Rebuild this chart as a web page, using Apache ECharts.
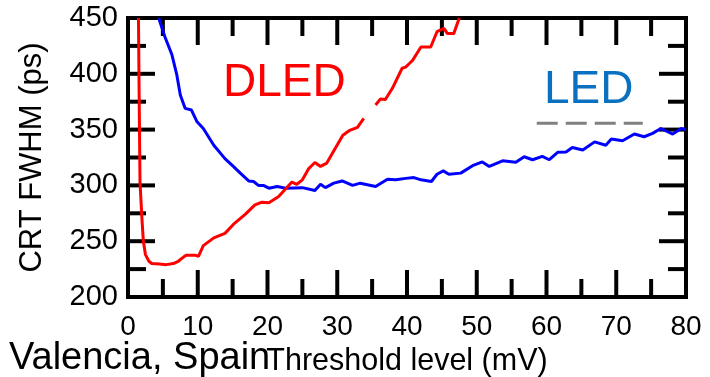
<!DOCTYPE html>
<html>
<head>
<meta charset="utf-8">
<script src="https://cdn.jsdelivr.net/npm/echarts@6/dist/echarts.min.js"></script>
<style>
html,body{margin:0;padding:0;background:#fff;}
#chart{width:710px;height:377px;}
</style>
</head>
<body>
<div id="chart"></div>
<script>
// DLED curve, Threshold level (mV) vs CRT FWHM (ps); drawn in two pieces (the line has a gap near 34 mV)
const dledLowThreshold = [1.5, 1.6, 1.72, 2.0, 2.2, 2.5, 3.0, 3.4, 4.5, 5.5, 6.5, 7.2, 8.0, 8.4, 9.6, 10.1, 10.8, 12.3, 13.9, 15.1, 16.8, 18.2, 19.2, 20.2, 21.6, 23.5, 24.2, 25.0, 25.9, 26.8, 27.6, 28.5, 29.7, 30.8, 31.7, 32.9, 33.8];
const dledLowCRT = [450, 380, 303, 270, 250, 238, 232, 230, 229.5, 229, 230, 232, 236, 237.5, 237.5, 236.5, 246, 253, 257, 265, 274, 282.5, 285, 284.5, 290, 303, 301, 305, 315, 320.5, 317, 320, 333, 345, 349, 352, 360];
const dledHighThreshold = [35.5, 36.2, 36.9, 37.9, 39.3, 39.8, 40.3, 40.8, 42.0, 43.4, 44.3, 45.3, 45.8, 46.7, 47.5];
const dledHighCRT = [372, 377.5, 377, 387, 405, 406, 409, 412, 424, 424, 437.7, 440.7, 436, 436, 450];

// LED curve
const ledThreshold = [4.4, 5.3, 6.3, 7.0, 7.5, 8.2, 9.1, 9.9, 10.8, 12.3, 13.9, 15.1, 16.1, 17.3, 18.0, 18.7, 19.4, 20.2, 21.4, 22.6, 25.0, 26.8, 27.6, 28.3, 29.5, 30.7, 32.2, 33.3, 35.5, 37.2, 38.4, 39.8, 41.0, 42.0, 43.5, 44.3, 45.2, 46.0, 47.7, 49.4, 50.8, 51.8, 53.7, 55.6, 56.8, 58.0, 59.4, 60.4, 61.6, 62.8, 63.7, 65.2, 66.9, 68.5, 69.3, 70.9, 72.6, 74.0, 75.2, 76.4, 78.1, 79.3, 80.0];
const ledCRT = [450, 433, 417, 399, 381, 369, 367.5, 357, 351, 336, 324, 317, 311, 304, 303.5, 300, 300, 297.5, 299, 297.5, 298, 295.5, 301, 298, 302, 304, 300, 302, 299, 305.5, 305, 306.3, 307, 305, 303.5, 310, 313, 310, 311, 317.7, 321, 317, 322, 320.7, 325.7, 323, 326, 323, 329.6, 330, 334, 331.7, 339, 336, 341.6, 340, 346, 343.6, 346.6, 351, 346, 351, 350];

// gray dashed stroke under "LED"
const dashThreshold = [58.6, 73.8];
const dashCRT = [355.6, 355.6];

const xTicks = {min: 0, max: 80, interval: 10};
const yTicks = {min: 200, max: 450, interval: 50};

const zip = (a, b) => a.map((v, i) => [v, b[i]]);
const FONT = '"Liberation Sans", Arial, sans-serif';
const MAJOR = 27, MINOR = 18;

// Box frame + inward ticks on all four sides, positioned through the axis scales.
// kind 0 = x tick, 1 = y tick, 2 = frame rectangle
const frameItems = [[2, 0, 0]];
for (let v = xTicks.min; v <= xTicks.max; v += xTicks.interval / 2) {
  frameItems.push([0, v, (v - xTicks.min) % xTicks.interval === 0 ? MAJOR : MINOR]);
}
for (let v = yTicks.min; v <= yTicks.max; v += yTicks.interval / 2) {
  frameItems.push([1, v, (v - yTicks.min) % yTicks.interval === 0 ? MAJOR : MINOR]);
}

function renderFrame(params, api) {
  const kind = api.value(0), v = api.value(1), len = api.value(2);
  const st = {stroke: '#000', lineWidth: 4, fill: 'none'};
  if (kind === 0) {
    const b = api.coord([v, yTicks.min]), t = api.coord([v, yTicks.max]);
    return {type: 'group', children: [
      {type: 'line', shape: {x1: b[0], y1: b[1], x2: b[0], y2: b[1] - len}, style: st},
      {type: 'line', shape: {x1: t[0], y1: t[1], x2: t[0], y2: t[1] + len}, style: st}
    ]};
  }
  if (kind === 1) {
    const l = api.coord([xTicks.min, v]), r = api.coord([xTicks.max, v]);
    return {type: 'group', children: [
      {type: 'line', shape: {x1: l[0], y1: l[1], x2: l[0] + len, y2: l[1]}, style: st},
      {type: 'line', shape: {x1: r[0], y1: r[1], x2: r[0] - len, y2: r[1]}, style: st}
    ]};
  }
  const tl = api.coord([xTicks.min, yTicks.max]), br = api.coord([xTicks.max, yTicks.min]);
  return {type: 'rect', shape: {x: tl[0], y: tl[1], width: br[0] - tl[0], height: br[1] - tl[1]}, style: st};
}

try {
  const chart = echarts.init(document.getElementById('chart'));
  chart.setOption({
    animation: false,
    backgroundColor: '#fff',
    grid: {left: 128, right: 24, top: 18, bottom: 80, outerBoundsMode: 'none'},
    xAxis: {
      type: 'value', min: xTicks.min, max: xTicks.max, interval: xTicks.interval,
      axisLine: {show: false}, axisTick: {show: false}, splitLine: {show: false},
      axisLabel: {color: '#000', fontFamily: FONT, fontSize: 28, margin: 16},
      name: 'Threshold level (mV)', nameLocation: 'middle', nameGap: 47,
      nameTextStyle: {color: '#000', fontFamily: FONT, fontSize: 30.5}
    },
    yAxis: {
      type: 'value', min: yTicks.min, max: yTicks.max, interval: yTicks.interval,
      axisLine: {show: false}, axisTick: {show: false}, splitLine: {show: false},
      axisLabel: {color: '#000', fontFamily: FONT, fontSize: 29, margin: 10},
      name: 'CRT FWHM (ps)', nameLocation: 'middle', nameGap: 80, nameRotate: 90,
      nameTextStyle: {color: '#000', fontFamily: FONT, fontSize: 31}
    },
    series: [{
      name: 'frame', type: 'custom', data: frameItems, renderItem: renderFrame,
      encode: {x: 1, y: 1}, clip: false, silent: true, z: 1
    }, {
      name: 'LED', type: 'line', data: zip(ledThreshold, ledCRT), showSymbol: false, symbol: 'none',
      lineStyle: {color: '#0000ff', width: 3}, z: 3
    }, {
      name: 'DLED', type: 'line', data: zip(dledLowThreshold, dledLowCRT), showSymbol: false, symbol: 'none',
      lineStyle: {color: '#ff0000', width: 3}, z: 4
    }, {
      name: 'DLED', type: 'line', data: zip(dledHighThreshold, dledHighCRT), showSymbol: false, symbol: 'none',
      lineStyle: {color: '#ff0000', width: 3}, z: 4
    }, {
      name: 'dash', type: 'line', data: zip(dashThreshold, dashCRT), showSymbol: false, symbol: 'none',
      lineStyle: {color: '#808080', width: 3, type: [21, 8]}, z: 2
    }],
    graphic: [
      {type: 'text', left: 223, top: 60, style: {text: 'DLED', fill: '#ff0000', font: '46px ' + FONT}},
      {type: 'text', left: 544, top: 67, style: {text: 'LED', fill: '#0a70c0', font: '46px ' + FONT}},
      {type: 'text', left: 9, top: 340, style: {text: 'Valencia, Spain', fill: '#000', font: '38px ' + FONT}}
    ]
  });
} catch (e) { console.error(e); }
</script>
</body>
</html>
